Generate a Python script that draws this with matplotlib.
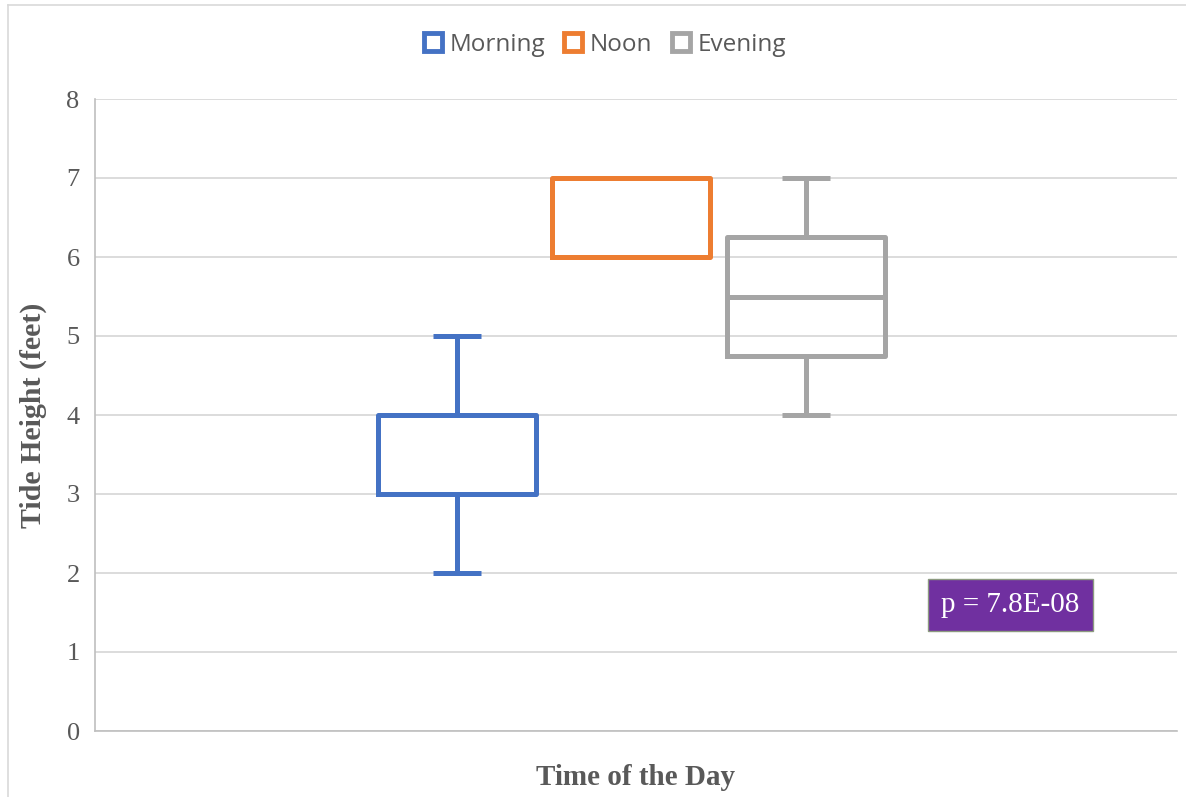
import numpy as np
import matplotlib.pyplot as plt
from matplotlib.lines import Line2D

# box plot stats
groups = ['Morning', 'Noon', 'Evening']
whislo = [2, 6, 4]
q1 = [3, 6, 4.75]
med = [3, 6, 5.5]
q3 = [4, 7, 6.25]
whishi = [5, 7, 7]
colors = ['#4472c4', '#ed7d31', '#a5a5a5']
p_text = 'p = 7.8E-08'

W, H = 1186, 797
fig = plt.figure(figsize=(W / 100, H / 100), dpi=100)
ax = fig.add_axes([95 / W, 1 - 731 / H, 1082 / W, 632 / H])

positions = [0.3346, 0.4954, 0.657]
for i, g in enumerate(groups):
    st = [dict(label=g, whislo=whislo[i], q1=q1[i], med=med[i], q3=q3[i], whishi=whishi[i], fliers=[])]
    c = colors[i]
    ax.bxp(st, positions=[positions[i]], widths=0.146, showfliers=False,
           boxprops=dict(color=c, linewidth=3.6),
           whiskerprops=dict(color=c, linewidth=3.6),
           capprops=dict(color=c, linewidth=3.6, solid_capstyle='butt'),
           medianprops=dict(color=c, linewidth=3.6),
           capwidths=0.045, manage_ticks=False)

ax.set_xlim(0, 1)
ax.set_ylim(0, 8)
ax.set_yticks(np.arange(0, 9, 1))
ax.set_xticks([])
ax.grid(axis='y', color='#d9d9d9', linewidth=1.3)
ax.set_axisbelow(True)
for s in ['top', 'right']:
    ax.spines[s].set_visible(False)
for s in ['left', 'bottom']:
    ax.spines[s].set_color('#bfbfbf')
    ax.spines[s].set_linewidth(1.2)
ax.tick_params(axis='y', length=0, pad=11, labelsize=19, labelcolor='#595959')
for lab in ax.get_yticklabels():
    lab.set_family('Liberation Serif')

ax.set_ylabel('Tide Height (feet)', family='Liberation Serif', fontweight='bold',
              fontsize=21.5, color='#595959', labelpad=14)
ax.set_xlabel('Time of the Day', family='Liberation Serif', fontweight='bold',
              fontsize=21, color='#595959', labelpad=24)

ax.text(0.846, 0.199, p_text, transform=ax.transAxes, ha='center', va='center',
        family='Liberation Serif', fontsize=21, color='white',
        bbox=dict(boxstyle='square,pad=0.45', facecolor='#7030a0', edgecolor='#8c9a80', linewidth=1))

handles = [Line2D([], [], marker='s', linestyle='none', markersize=13, markerfacecolor='white',
                  markeredgecolor=c, markeredgewidth=3.5) for c in colors]
fig.legend(handles, groups, loc='center', bbox_to_anchor=(602 / W, 1 - 45 / H), ncol=3,
           frameon=False, handletextpad=0.1, columnspacing=0.55, handlelength=1.2,
           prop=dict(family='Open Sans', size=17.5), labelcolor='#595959')

# chart border
fig.add_artist(Line2D([8 / W, 1], [1 - 5 / H, 1 - 5 / H], color='#d9d9d9', linewidth=1.2, transform=fig.transFigure))
fig.add_artist(Line2D([8 / W, 8 / W], [0, 1 - 5 / H], color='#d9d9d9', linewidth=1.2, transform=fig.transFigure))

fig.savefig('out.png', dpi=100)
